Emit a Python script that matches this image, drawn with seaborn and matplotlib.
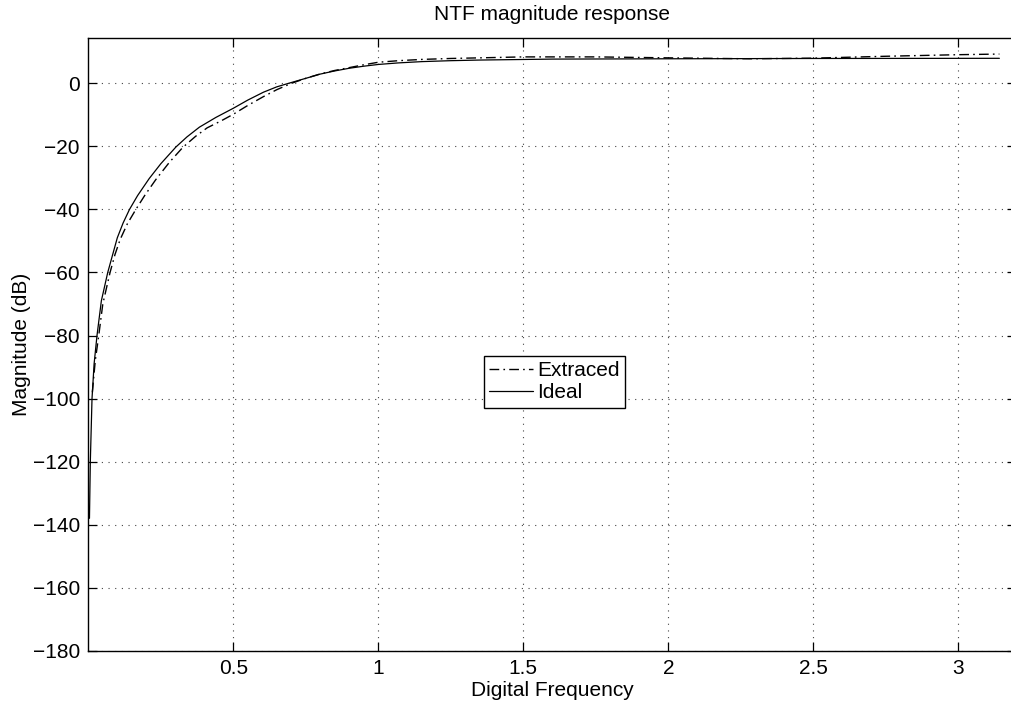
import numpy as np
import pandas as pd
import seaborn as sns
import matplotlib
matplotlib.use("Agg")
import matplotlib.pyplot as plt

# values
ideal_freq = [0.004, 0.007, 0.0128, 0.02, 0.030, 0.045, 0.067, 0.085, 0.10, 0.12,
              0.142, 0.17, 0.21, 0.25, 0.302, 0.34, 0.383, 0.44, 0.5, 0.55,
              0.604, 0.65, 0.69, 0.75, 0.80, 0.85, 0.90, 0.95, 1.0, 1.07,
              1.15, 1.25, 1.35, 1.6, 2.0, 2.5, 3.1416]
ideal_db = [-138, -120, -100, -89, -80, -69, -60, -54, -49, -44.3,
            -40, -35.6, -30.2, -25.5, -20.2, -17, -13.9, -10.8, -7.9, -5.3,
            -2.8, -1.1, 0.0, 1.6, 2.95, 3.95, 4.8, 5.45, 6.0, 6.5,
            6.9, 7.2, 7.4, 7.7, 7.8, 7.9, 7.95]

extr_freq = [0.014, 0.024, 0.036, 0.05, 0.075, 0.092, 0.11, 0.135, 0.164, 0.195,
             0.233, 0.28, 0.326, 0.37, 0.41, 0.46, 0.5, 0.55, 0.604, 0.65,
             0.70, 0.75, 0.80, 0.85, 0.90, 0.95, 1.0, 1.07, 1.15, 1.25,
             1.35, 1.5, 1.75, 2.0, 2.28, 2.5, 2.75, 3.0, 3.1416]
extr_db = [-98, -88, -80, -70, -60, -54.3, -49.5, -44.5, -40, -35.5,
           -30.5, -25.0, -20.3, -16.8, -14.1, -11.8, -9.8, -7.0, -4.2, -2.0,
           0.0, 1.6, 3.0, 4.1, 5.0, 5.9, 6.7, 7.2, 7.6, 7.9,
           8.1, 8.4, 8.4, 8.1, 7.8, 8.0, 8.6, 9.1, 9.3]

xticks = [0.5, 1, 1.5, 2, 2.5, 3]
yticks = list(range(-180, 1, 20))

sns.set_style("ticks")
plt.rcParams["font.family"] = ["Liberation Sans", "DejaVu Sans"]
plt.rcParams["text.color"] = "k"
plt.rcParams["axes.labelcolor"] = "k"

fig = plt.figure(figsize=(10.12, 7.04), dpi=100)
# axes runs a little past the right edge of the picture, as in the reference
ax = fig.add_axes([88.3 / 1012, 1 - 650.7 / 704, 928 / 1012, 612.4 / 704])

extr = pd.DataFrame({"freq": extr_freq, "db": extr_db})
ideal = pd.DataFrame({"freq": ideal_freq, "db": ideal_db})

sns.lineplot(data=extr, x="freq", y="db", ax=ax, color="k", lw=1.0,
             linestyle=(0, (7, 3, 1.2, 3)), estimator=None, sort=False,
             label="Extraced")
sns.lineplot(data=ideal, x="freq", y="db", ax=ax, color="k", lw=0.9,
             estimator=None, sort=False, label="Ideal")

ax.set_xlim(0, 3.2)
ax.set_ylim(-180, 14.3)
ax.set_xticks(xticks)
ax.set_xticklabels(["0.5", "1", "1.5", "2", "2.5", "3"])
ax.set_yticks(yticks)

ax.grid(True, color="#444444", linestyle=(0, (1, 5)), linewidth=0.8)
for s in ax.spines.values():
    s.set_linewidth(1.0)
    s.set_color("k")
ax.tick_params(direction="in", length=6.5, width=0.9, top=True, right=True,
               labelsize=15, pad=6, colors="k")

ax.set_title("NTF magnitude response", fontsize=15, pad=13, color="k")
ax.set_xlabel("Digital Frequency", fontsize=15, labelpad=2)
ax.set_ylabel("Magnitude (dB)", fontsize=15, labelpad=1)

leg = ax.legend(loc="center", bbox_to_anchor=(0.502, 0.439), fontsize=15,
                frameon=True, fancybox=False, shadow=False, framealpha=1,
                edgecolor="k", handlelength=2.1, handletextpad=0.2,
                borderpad=0.25, labelspacing=0.15, borderaxespad=0)
leg.get_frame().set_linewidth(1.0)
for t in leg.get_texts():
    t.set_color("k")

fig.savefig("out.png", dpi=100)
